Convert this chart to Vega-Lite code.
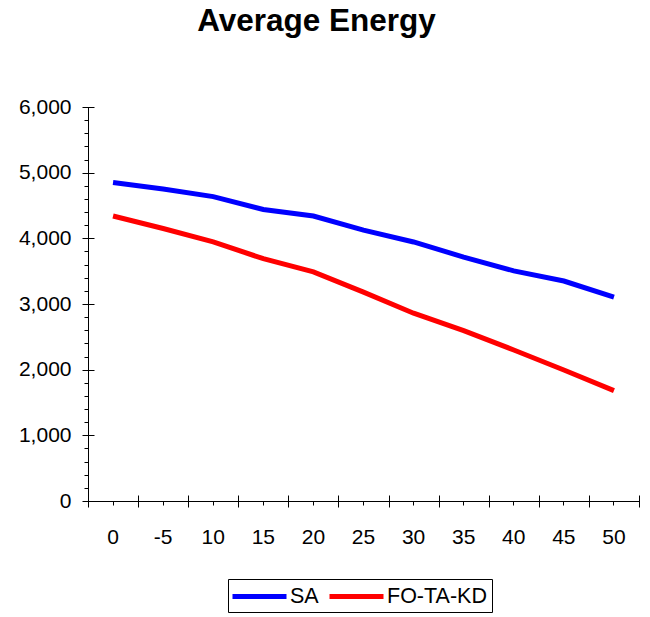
{
  "$schema": "https://vega.github.io/schema/vega-lite/v6.json",
  "width": 551,
  "height": 394,
  "autosize": {"type": "none"},
  "padding": {"left": 88, "top": 107, "right": 11, "bottom": 116},
  "background": "white",
  "config": {
    "view": {"stroke": null},
    "font": "Liberation Sans",
    "axis": {"grid": false, "domainColor": "black", "tickColor": "black", "labelColor": "black", "labelFont": "Liberation Sans", "labelFontSize": 21, "title": null}
  },
  "title": {
    "text": "Average Energy",
    "font": "Liberation Sans",
    "fontSize": 31.5,
    "fontWeight": "bold",
    "color": "black",
    "anchor": "middle",
    "frame": "group",
    "dx": -47,
    "baseline": "alphabetic",
    "offset": 34
  },
  "data": {
    "values": [
      {"temp": "0", "series": "SA", "energy": 4850},
      {"temp": "-5", "series": "SA", "energy": 4750},
      {"temp": "10", "series": "SA", "energy": 4635},
      {"temp": "15", "series": "SA", "energy": 4440},
      {"temp": "20", "series": "SA", "energy": 4340},
      {"temp": "25", "series": "SA", "energy": 4125},
      {"temp": "30", "series": "SA", "energy": 3945},
      {"temp": "35", "series": "SA", "energy": 3715},
      {"temp": "40", "series": "SA", "energy": 3505},
      {"temp": "45", "series": "SA", "energy": 3350},
      {"temp": "50", "series": "SA", "energy": 3105},
      {"temp": "0", "series": "FO-TA-KD", "energy": 4340},
      {"temp": "-5", "series": "FO-TA-KD", "energy": 4150},
      {"temp": "10", "series": "FO-TA-KD", "energy": 3945},
      {"temp": "15", "series": "FO-TA-KD", "energy": 3690},
      {"temp": "20", "series": "FO-TA-KD", "energy": 3490},
      {"temp": "25", "series": "FO-TA-KD", "energy": 3180},
      {"temp": "30", "series": "FO-TA-KD", "energy": 2860},
      {"temp": "35", "series": "FO-TA-KD", "energy": 2595},
      {"temp": "40", "series": "FO-TA-KD", "energy": 2300},
      {"temp": "45", "series": "FO-TA-KD", "energy": 1995},
      {"temp": "50", "series": "FO-TA-KD", "energy": 1680}
    ]
  },
  "layer": [
    {
      "mark": {"type": "line", "strokeWidth": 5, "strokeCap": "butt", "strokeJoin": "miter"},
      "encoding": {
        "x": {
          "field": "temp", "type": "nominal", "sort": null, "bandPosition": 0.5,
          "scale": {"type": "band", "paddingInner": 0, "paddingOuter": 0},
          "axis": {"orient": "bottom", "labelAngle": 0, "tickSize": 4, "labelPadding": 21, "domainWidth": 1, "tickWidth": 1}
        },
        "y": {
          "field": "energy", "type": "quantitative",
          "scale": {"domain": [0, 6000], "nice": false, "zero": true},
          "axis": {
            "orient": "left",
            "values": [0,200,400,600,800,1000,1200,1400,1600,1800,2000,2200,2400,2600,2800,3000,3200,3400,3600,3800,4000,4200,4400,4600,4800,5000,5200,5400,5600,5800,6000],
            "labelExpr": "datum.value % 1000 === 0 ? format(datum.value, ',') : ''",
            "labelOverlap": false,
            "labelFlush": false,
            "tickSize": 4,
            "labelPadding": 13,
            "domainWidth": 1,
            "tickWidth": 1
          }
        },
        "color": {
          "field": "series", "type": "nominal",
          "scale": {"domain": ["SA", "FO-TA-KD"], "range": ["#0000ff", "#ff0000"]},
          "legend": {
            "title": null,
            "orient": "none",
            "legendX": 140,
            "legendY": 472,
            "direction": "horizontal",
            "strokeColor": "black",
            "padding": 5,
            "symbolType": "M-1.3,0H4.1",
            "symbolSize": 400,
            "symbolStrokeWidth": 5,
            "symbolFillColor": "transparent",
            "labelFont": "Liberation Sans",
            "labelFontSize": 21.5,
            "labelColor": "black",
            "labelOffset": 32,
            "columnPadding": 0
          }
        }
      }
    },
    {
      "mark": {"type": "point", "opacity": 0},
      "encoding": {
        "x": {
          "field": "temp", "type": "nominal", "sort": null,
          "scale": {"type": "band", "paddingInner": 0, "paddingOuter": 0},
          "axis": {"orient": "bottom", "tickBand": "extent", "labels": false, "domain": false, "tickSize": 12, "offset": -6, "tickWidth": 1}
        },
        "y": {
          "field": "energy", "type": "quantitative",
          "scale": {"domain": [0, 6000], "nice": false, "zero": true},
          "axis": {"orient": "left", "values": [0,1000,2000,3000,4000,5000,6000], "labels": false, "domain": false, "tickSize": 12, "offset": -6, "tickWidth": 1}
        }
      }
    }
  ],
  "resolve": {"axis": {"x": "independent", "y": "independent"}}
}
